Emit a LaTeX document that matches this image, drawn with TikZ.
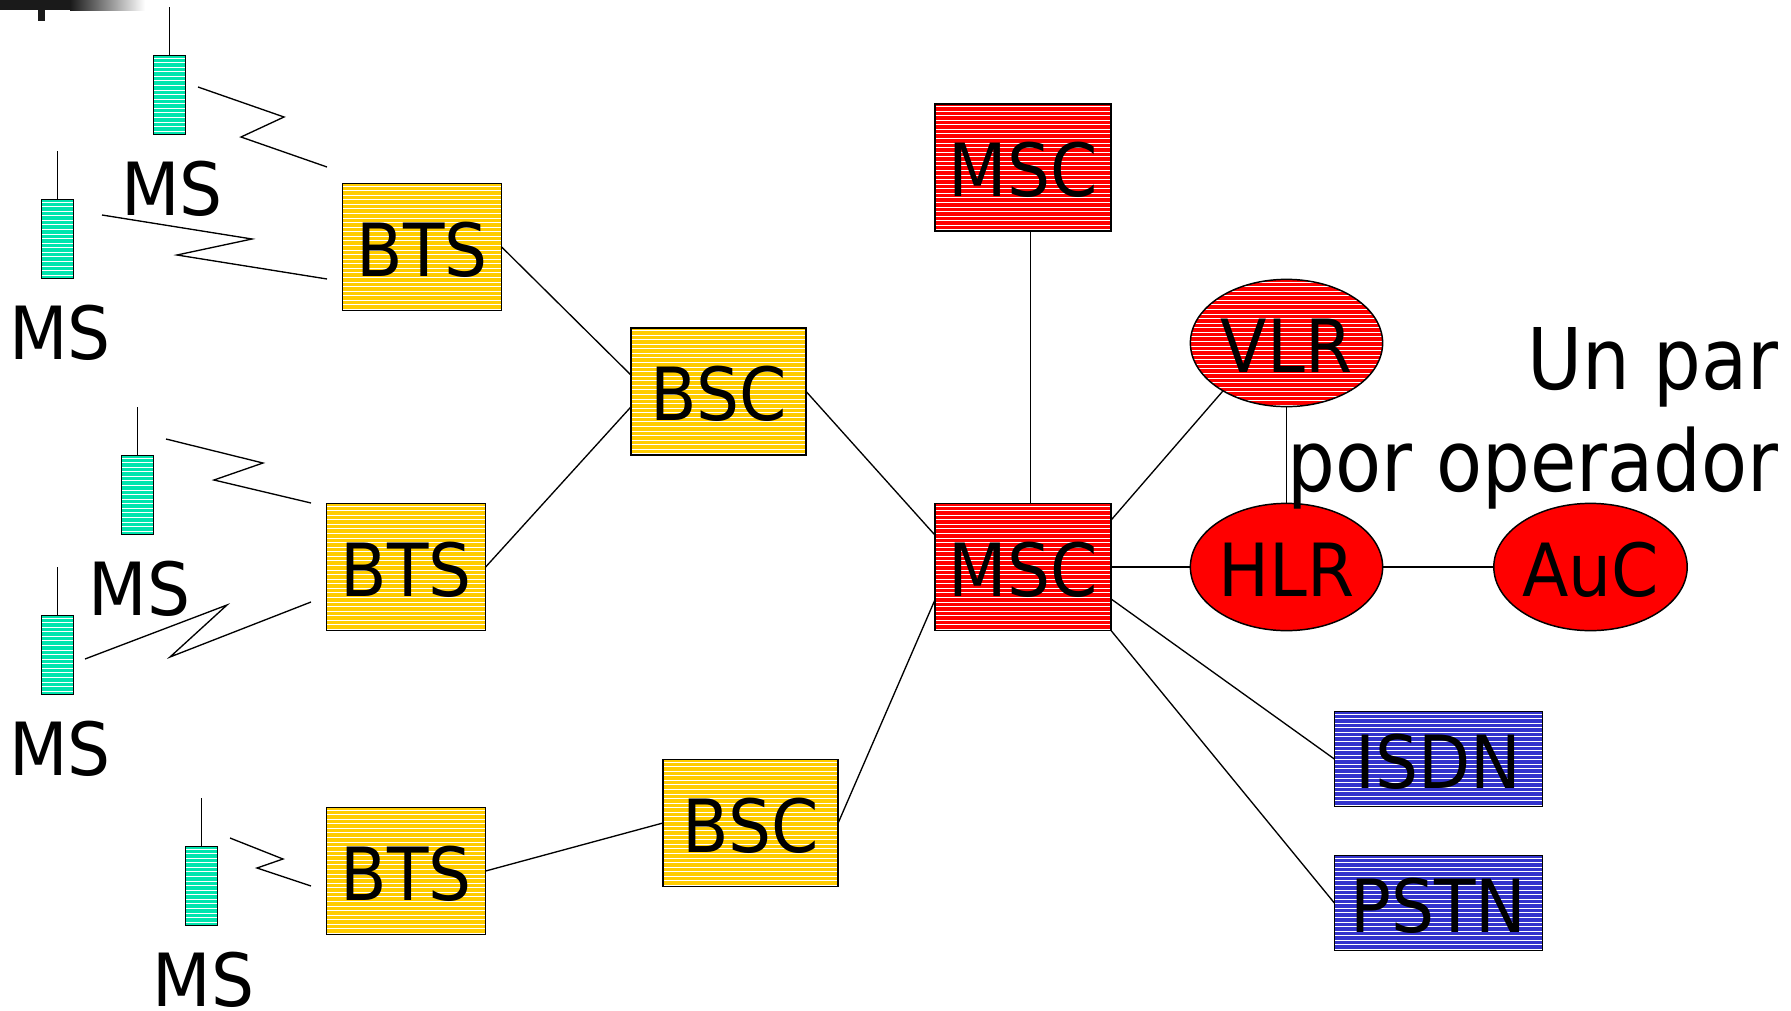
\documentclass[tikz,border=0pt]{standalone}
\usepackage{fontspec}
\setmainfont[FakeStretch=0.925]{DejaVu Sans}
\newfontfamily\notefont[FakeStretch=0.885]{DejaVu Sans}
\usetikzlibrary{shapes.geometric,calc}
\definecolor{msfill}{HTML}{00E5AD}
\definecolor{yelfill}{HTML}{FFCC00}
\definecolor{redfill}{HTML}{FF0000}
\definecolor{blufill}{HTML}{3333CC}
\definecolor{barblack}{HTML}{1A1A1A}
\tikzset{
  hatched/.style={draw=black,line width=1.1pt,inner sep=0pt,outer sep=0pt,
    font=\fontsize{55}{55}\selectfont,text height=43.5pt,text depth=0pt,
    path picture={
      \foreach \i in {0,...,28}{
        \draw[white,line width=0.6pt]
          ([yshift={-1.9pt-\i*3.43pt}]path picture bounding box.north west) --
          ([yshift={-1.9pt-\i*3.43pt}]path picture bounding box.north east);
      }
    }},
  msbody/.style={hatched,rectangle,fill=msfill,minimum width=24.2pt,minimum height=59.45pt},
  btsbox/.style={hatched,rectangle,fill=yelfill,minimum width=119.45pt,minimum height=95.45pt},
  bscbox/.style={hatched,rectangle,fill=yelfill,minimum width=131.45pt,minimum height=95.45pt},
  mscbox/.style={hatched,rectangle,fill=redfill,minimum width=132.2pt,minimum height=95.45pt},
  dbell/.style={hatched,ellipse,fill=redfill,minimum width=144.2pt,minimum height=95.45pt},
  plainell/.style={draw=black,line width=1.1pt,inner sep=0pt,outer sep=0pt,ellipse,fill=redfill,
    minimum width=144.2pt,minimum height=95.45pt,font=\fontsize{55}{55}\selectfont,text height=43.5pt,text depth=0pt},
  netbox/.style={hatched,rectangle,fill=blufill,minimum width=156.2pt,minimum height=71.45pt},
  mslabel/.style={anchor=base,inner sep=0pt,font=\fontsize{55}{55}\selectfont},
  bigtext/.style={anchor=base east,inner sep=0pt,font=\notefont\fontsize{63.8}{64}\selectfont},
  wire/.style={draw=black,line width=1pt},
  antenna/.style={draw=black,line width=1pt},
  radio/.style={draw=black,line width=1pt,line join=miter},
}
\begin{document}
\begin{tikzpicture}[x=0.75pt,y=-0.75pt]
\useasboundingbox (0,0) rectangle (1791,1010);
% title bullet remnant
\fill[barblack] (0,0) rectangle (71,10);
\shade[left color=barblack,right color=white] (70,0) rectangle (145,10);
\fill[barblack] (38,10) rectangle (45,21);
% mobile stations
\node[msbody] (ms1) at (169.5,95) {};
\node[msbody] (ms2) at (57.5,239) {};
\node[msbody] (ms3) at (137.5,495) {};
\node[msbody] (ms4) at (57.5,655) {};
\node[msbody] (ms5) at (201.5,886) {};
\coordinate (a1) at (169.5,7);
\coordinate (a2) at (57.5,151);
\coordinate (a3) at (137.5,407);
\coordinate (a4) at (57.5,567);
\coordinate (a5) at (201.5,798);
\draw[antenna] (a1) -- (ms1.north);
\draw[antenna] (a2) -- (ms2.north);
\draw[antenna] (a3) -- (ms3.north);
\draw[antenna] (a4) -- (ms4.north);
\draw[antenna] (a5) -- (ms5.north);
\node[mslabel] (l1) at (172,215) {MS};
\node[mslabel] (l2) at (60,359) {MS};
\node[mslabel] (l3) at (139.5,615) {MS};
\node[mslabel] (l4) at (60,775) {MS};
\node[mslabel] (l5) at (203.5,1006) {MS};
% BTS / BSC
\node[btsbox] (bts1) at (422,247) {BTS};
\node[btsbox] (bts2) at (406,567) {BTS};
\node[btsbox] (bts3) at (406,871) {BTS};
\node[bscbox] (bsc1) at (718.5,391.5) {BSC};
\node[bscbox] (bsc2) at (750.5,823) {BSC};
% core
\node[mscbox] (msctop) at (1023,167.5) {MSC};
\node[mscbox] (msc) at (1023,567) {MSC};
\node[dbell] (vlr) at (1286.5,343) {VLR};
\node[plainell] (hlr) at (1286.5,567) {HLR};
\node[plainell] (auc) at (1590.5,567) {AuC};
\node[netbox] (isdn) at (1438.5,759) {ISDN};
\node[netbox] (pstn) at (1438.5,903) {PSTN};
% radio links
\draw[radio] (198,87) -- (284,117) -- (241,137) -- (327,167);
\draw[radio] (102,215) -- (252,239) -- (177,255) -- (327,279);
\draw[radio] (166,439) -- (263,463) -- (214,480) -- (311,503);
\draw[radio] (85,659) -- (227,605) -- (170,657) -- (311,602);
\draw[radio] (230,838) -- (283,859) -- (257,868) -- (311,886);
% connectors
\draw[wire] (bts1.east) -- ([yshift=12.4pt]bsc1.west);
\draw[wire] (bts2.east) -- ([yshift=-11.6pt]bsc1.west);
\draw[wire] (bts3.east) -- (bsc2.west);
\draw[wire] (bsc1.east) -- ([yshift=24pt]msc.west);
\draw[wire] (bsc2.east) -- ([yshift=-24.75pt]msc.west);
\draw[wire] ([xshift=5.6pt]msctop.south) -- ([xshift=5.6pt]msc.north);
\draw[wire] ([yshift=35.25pt]msc.east) -- (vlr.217);
\draw[wire] (vlr.south) -- (hlr.north);
\draw[wire] (msc.east) -- (hlr.west);
\draw[wire] (hlr.east) -- (auc.west);
\draw[wire] ([yshift=-24pt]msc.east) -- (isdn.west);
\draw[wire] (msc.south east) -- (pstn.west);
% side note
\node[bigtext] (n1) at (1779,389.5) {Un par};
\node[bigtext] (n2) at (1779,491) {por operador};
\end{tikzpicture}
\end{document}
